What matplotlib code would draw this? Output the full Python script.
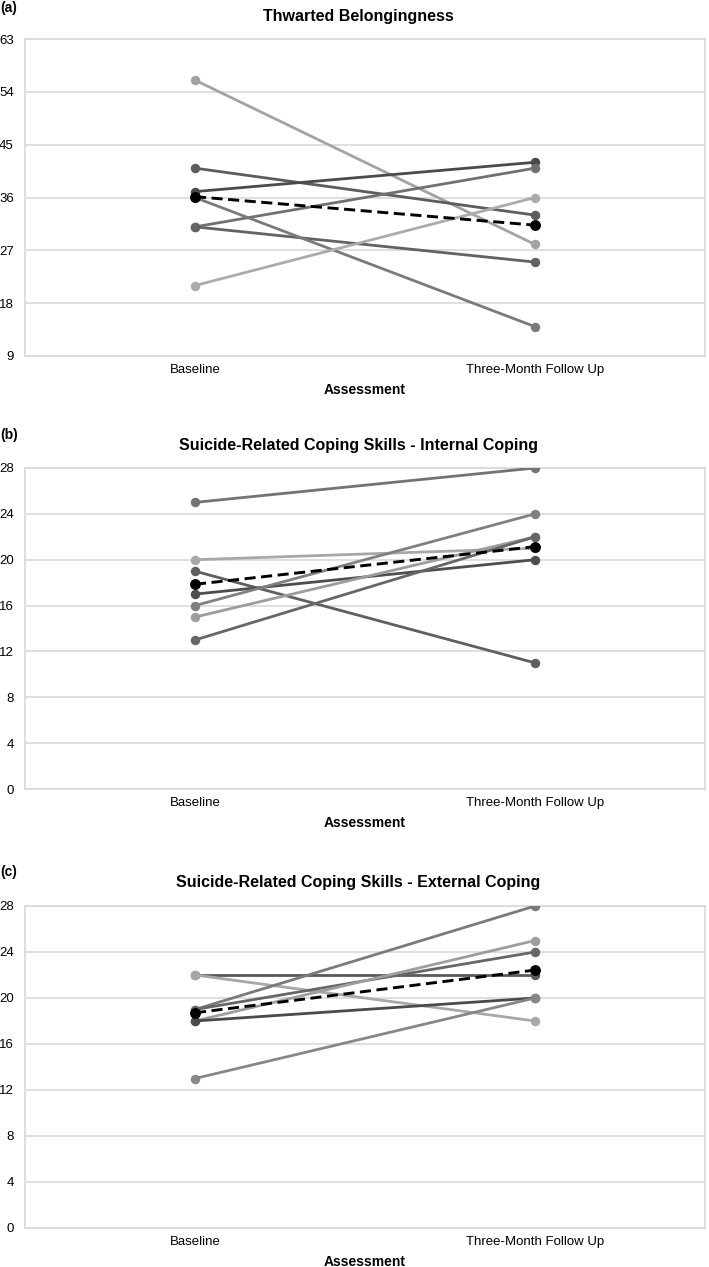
import matplotlib
matplotlib.use("Agg")
import matplotlib.pyplot as plt

plt.rcParams['font.family'] = ['Liberation Sans', 'DejaVu Sans']

categories = ["Baseline", "Three-Month Follow Up"]

# Panel (a): Thwarted Belongingness
tb_baseline = [56, 41, 37, 31, 31, 36, 21]
tb_followup = [28, 33, 42, 41, 25, 14, 36]
tb_colors = ["#a3a3a3", "#5c5c5c", "#4a4a4a", "#707070", "#626262", "#7a7a7a", "#ababab"]
tb_ticks = [9, 18, 27, 36, 45, 54, 63]

# Panel (b): Internal Coping
ic_baseline = [25, 20, 19, 17, 16, 15, 13]
ic_followup = [28, 21, 11, 20, 24, 22, 22]
ic_colors = ["#737373", "#a8a8a8", "#5f5f5f", "#4d4d4d", "#808080", "#9c9c9c", "#666666"]
ic_ticks = [0, 4, 8, 12, 16, 20, 24, 28]

# Panel (c): External Coping
ec_baseline = [22, 22, 19, 19, 18, 18, 13]
ec_followup = [22, 18, 28, 24, 25, 20, 20]
ec_colors = ["#5a5a5a", "#a8a8a8", "#7a7a7a", "#666666", "#9e9e9e", "#4a4a4a", "#878787"]
ec_ticks = [0, 4, 8, 12, 16, 20, 24, 28]

panels = [
    ("(a)", "Thwarted Belongingness", tb_baseline, tb_followup, tb_colors, tb_ticks),
    ("(b)", "Suicide-Related Coping Skills - Internal Coping", ic_baseline, ic_followup, ic_colors, ic_ticks),
    ("(c)", "Suicide-Related Coping Skills - External Coping", ec_baseline, ec_followup, ec_colors, ec_ticks),
]

W, H = 709, 1267
fig = plt.figure(figsize=(W / 100, H / 100), dpi=100)

# pixel layout: (axes top, axes bottom, title y, label y)
layout = [(39, 356, 17, 8), (468, 789, 446, 435), (906, 1228, 882, 872)]
left_px, right_px = 25, 705
grid_col = "#d9d9d9"

for (lab, title, base, fol, cols, ticks), (top, bot, ty, ly) in zip(panels, layout):
    ax = fig.add_axes([left_px / W, 1 - bot / H, (right_px - left_px) / W, (bot - top) / H])
    x = [0, 1]
    for b, f, c in zip(base, fol, cols):
        ax.plot(x, [b, f], color=c, lw=2.0, marker="o", ms=5.8, zorder=3,
                solid_capstyle="round")
    mb = sum(base) / len(base)
    mf = sum(fol) / len(fol)
    ax.plot(x, [mb, mf], color="black", lw=2.1, ls=(0, (3.8, 1.9)), marker="o", ms=6.8, zorder=4)

    ax.set_xlim(-0.5, 1.5)
    ax.set_ylim(ticks[0], ticks[-1])
    ax.set_yticks(ticks)
    ax.set_xticks(x)
    ax.set_xticklabels(categories, fontsize=9.5)
    ax.tick_params(axis="both", length=0)
    ax.tick_params(axis="y", pad=8, labelsize=9.5)
    ax.tick_params(axis="x", pad=6)
    ax.grid(axis="y", color=grid_col, lw=1.2, zorder=0)
    ax.set_axisbelow(True)
    for s in ax.spines.values():
        s.set_color(grid_col)
        s.set_linewidth(1.2)
    ax.set_xlabel("Assessment", fontsize=10, fontweight="bold", labelpad=5)

    fig.text(0.505, 1 - ty / H, title, ha="center", va="center", fontsize=11.5, fontweight="bold")
    fig.text(0.0, 1 - ly / H, lab, ha="left", va="center", fontsize=10, fontweight="bold")

fig.savefig("out.png", dpi=100, facecolor="white")
